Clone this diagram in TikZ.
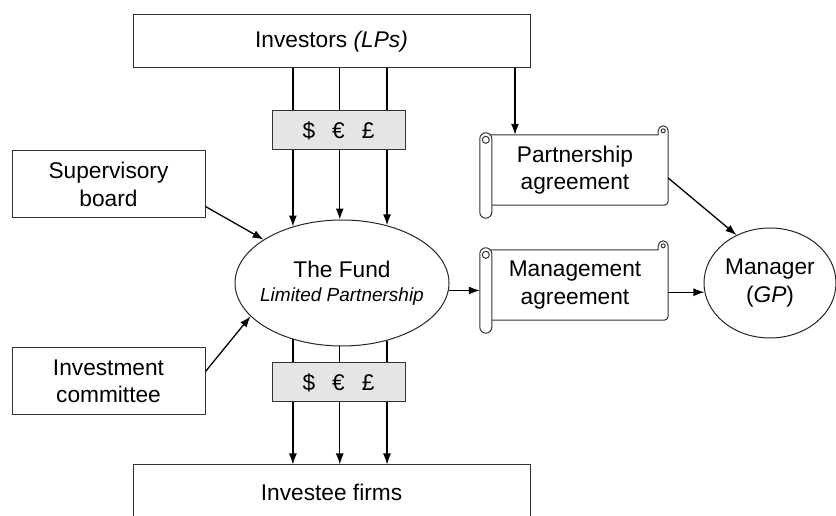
\documentclass[tikz,border=0pt]{standalone}
\usepackage{fontspec}
\setmainfont{Liberation Sans}
\usetikzlibrary{shapes.geometric,calc,arrows.meta}

\tikzset{
  box/.style={draw=black!80, line width=1pt, fill=white, align=center, inner sep=0pt},
  cash/.style={draw=black!80, line width=1pt, fill=black!10, minimum width=133pt, minimum height=39pt, inner sep=0pt},
  oval/.style={draw=black!85, line width=1pt, ellipse, fill=white, align=center, inner sep=0pt},
  scrolline/.style={draw=black!80, line width=1pt},
  flow/.style={line width=1.3pt, -{Latex[length=11pt,width=8pt]}},
}

% paper scroll around a named node
\newcommand{\scrollpaper}[1]{%
  \draw[scrolline, rounded corners=4pt] ($(#1.north east)+(0,4)$) -- (#1.south east) -- ($(#1.south west)+(8,0)$);
  \draw[scrolline] ($(#1.north west)+(4,0)$) -- ($(#1.north east)+(-10,0)$) -- ++(0,4)
    arc[start angle=180, end angle=0, radius=5pt];
  \draw[scrolline] ($(#1.north east)+(-5,4)$) circle (2pt);
  \draw[scrolline, fill=white, rounded corners=6pt] ($(#1.north west)+(-2,2)$) rectangle ($(#1.south west)+(10,-13)$);
  \draw[scrolline] ($(#1.north west)+(4,-5)$) circle (3.5pt);
}

\begin{document}
\begin{tikzpicture}[x=1pt, y=1pt, font=\fontsize{22.7}{27.5}\selectfont]
    \useasboundingbox (0,0) rectangle (836,516);

    % boxes
    \node [box, minimum width=397pt, minimum height=53pt] (investors) at (331.5,474.5) {Investors \textit{(LPs)}};
    \node [box, minimum width=397pt, minimum height=54pt] (investee) at (331.5,24) {Investee firms};
    \node [box, minimum width=193pt, minimum height=67pt] (board) at (108.5,331.5) {Supervisory\\board};
    \node [box, minimum width=193pt, minimum height=67pt] (committee) at (108.5,134.5) {Investment\\committee};

    % the fund and the manager
    \node [oval, minimum width=214pt, minimum height=126pt, inner xsep=-12pt] (fund) at (342,233)
        {The Fund\\[-3.5pt]{\fontsize{19}{22}\selectfont\itshape Limited Partnership}};
    \node [oval, minimum width=132pt, minimum height=110pt] (manager) at (770,233) {Manager\\(\textit{GP})};

    % agreements
    \node [inner sep=0pt, minimum width=186pt, minimum height=70pt, align=center] (partner) at (575,346) {Partnership\\agreement};
    \node [inner sep=0pt, minimum width=186pt, minimum height=70pt, align=center] (mgmt) at (575,231) {Management\\agreement};
    \scrollpaper{partner}
    \scrollpaper{mgmt}

    % money in and out
    \foreach \a in {131,92,52}
        \draw[flow] (fund.\a |- investors.south) -- (fund.\a);
    \foreach \a in {229,268,308}
        \draw[flow] (fund.\a) -- (fund.\a |- investee.north);
    \node [cash] (cashin) at (338.5,385.5) {\$\hspace{17pt}€\hspace{17pt}£};
    \node [cash] (cashout) at (338.5,133.5) {\$\hspace{17pt}€\hspace{17pt}£};

    \draw[flow] ([yshift=-22pt]board.east) -- (fund.151);
    \draw[flow] ([yshift=10pt]committee.east) -- (fund.200);

    \coordinate (pin) at ([xshift=-60pt]partner.north);
    \draw[flow] (investors.south -| pin) -- (pin);
    \draw[flow] (fund.-4) -- ([xshift=-2pt]fund.-4 -| mgmt.west);
    \draw[flow] ([yshift=-8pt]partner.east) -- (manager.125);
    \draw[flow] (manager.188 -| mgmt.east) -- (manager.188);
\end{tikzpicture}
\end{document}
